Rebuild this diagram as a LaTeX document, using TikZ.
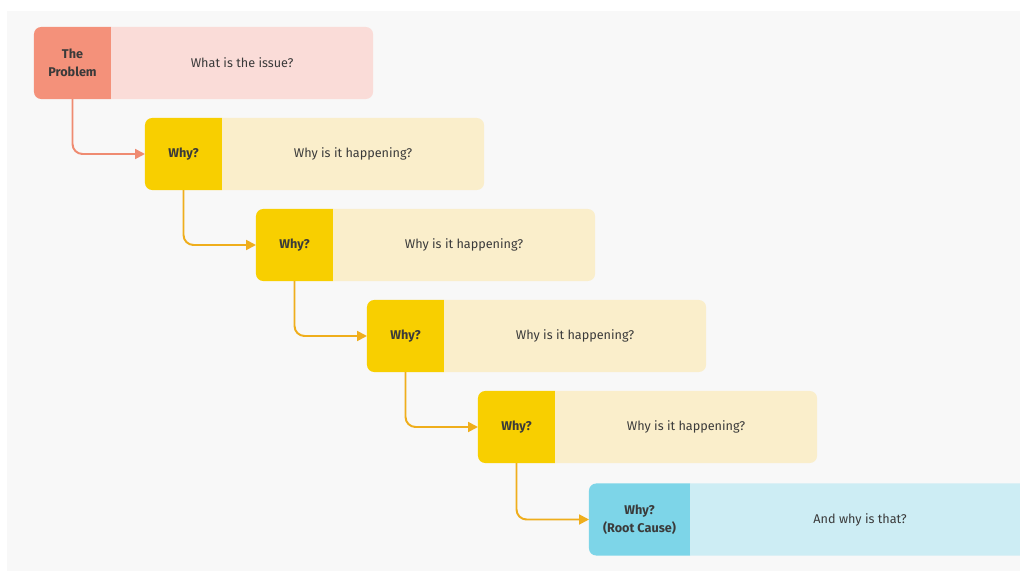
\documentclass[tikz,border=0pt]{standalone}
\usepackage{fontspec}
\setmainfont{Fira Sans}
\usetikzlibrary{positioning,arrows.meta,backgrounds}

\definecolor{probdark}{HTML}{F4917A}
\definecolor{problight}{HTML}{FADCD8}
\definecolor{whydark}{HTML}{F8CF00}
\definecolor{whylight}{HTML}{FAEECB}
\definecolor{rootdark}{HTML}{7DD5E8}
\definecolor{rootlight}{HTML}{CDEDF4}
\definecolor{probline}{HTML}{EF8B71}
\definecolor{whyline}{HTML}{EFAE1C}
\definecolor{ink}{HTML}{3A3A3A}
\definecolor{paper}{HTML}{F8F8F8}

\tikzset{
  lbl/.style={minimum width=1.925cm, minimum height=1.8cm, inner sep=0pt, outer sep=0pt,
    align=center, text=ink, font=\fontsize{9}{12.5}\selectfont\bfseries},
  txt/.style={minimum width=6.55cm, minimum height=1.8cm, inner sep=0pt, outer sep=0pt,
    text=ink, font=\fontsize{9}{12.5}\selectfont},
  link/.style={line width=1.4pt, rounded corners=0.25cm, -{Triangle[length=7pt,width=7pt]}},
}

\begin{document}
\begin{tikzpicture}[x=0.025cm, y=-0.025cm]
\useasboundingbox (0,0) rectangle (1020,571);
\clip (0,0) rectangle (1020,571);

% the problem
\node[lbl] (prob) at (72.5,63) {The\\Problem};
\node[txt, right=0pt of prob] (issue) {What is the issue?};

% the whys
\node[lbl] (why1) at (183.5,154) {Why?};
\node[txt, right=0pt of why1] (txt1) {Why is it happening?};
\node[lbl] (why2) at (294.5,245) {Why?};
\node[txt, right=0pt of why2] (txt2) {Why is it happening?};
\node[lbl] (why3) at (405.5,336) {Why?};
\node[txt, right=0pt of why3] (txt3) {Why is it happening?};
\node[lbl] (why4) at (516.5,427) {Why?};
\node[txt, right=0pt of why4] (txt4) {Why is it happening?};

% root cause
\node[lbl, minimum width=2.525cm] (root) at (639.5,519.5) {Why?\\(Root Cause)};
\node[txt, minimum width=8.5cm, right=0pt of root] (rtxt) {And why is that?};

\begin{scope}[on background layer]
\fill[paper] (7,11) rectangle (1020,571);
\fill[probdark] (prob.north east) [rounded corners=0.18cm] -- (prob.north west) -- (prob.south west) [sharp corners] -- (prob.south east) -- cycle;
\fill[problight] (issue.north west) [rounded corners=0.18cm] -- (issue.north east) -- (issue.south east) [sharp corners] -- (issue.south west) -- cycle;
\fill[whydark] (why1.north east) [rounded corners=0.18cm] -- (why1.north west) -- (why1.south west) [sharp corners] -- (why1.south east) -- cycle;
\fill[whylight] (txt1.north west) [rounded corners=0.18cm] -- (txt1.north east) -- (txt1.south east) [sharp corners] -- (txt1.south west) -- cycle;
\fill[whydark] (why2.north east) [rounded corners=0.18cm] -- (why2.north west) -- (why2.south west) [sharp corners] -- (why2.south east) -- cycle;
\fill[whylight] (txt2.north west) [rounded corners=0.18cm] -- (txt2.north east) -- (txt2.south east) [sharp corners] -- (txt2.south west) -- cycle;
\fill[whydark] (why3.north east) [rounded corners=0.18cm] -- (why3.north west) -- (why3.south west) [sharp corners] -- (why3.south east) -- cycle;
\fill[whylight] (txt3.north west) [rounded corners=0.18cm] -- (txt3.north east) -- (txt3.south east) [sharp corners] -- (txt3.south west) -- cycle;
\fill[whydark] (why4.north east) [rounded corners=0.18cm] -- (why4.north west) -- (why4.south west) [sharp corners] -- (why4.south east) -- cycle;
\fill[whylight] (txt4.north west) [rounded corners=0.18cm] -- (txt4.north east) -- (txt4.south east) [sharp corners] -- (txt4.south west) -- cycle;
\fill[rootdark] (root.north east) [rounded corners=0.18cm] -- (root.north west) -- (root.south west) [sharp corners] -- (root.south east) -- cycle;
\fill[rootlight] (rtxt.north west) [rounded corners=0.18cm] -- (rtxt.north east) -- (rtxt.south east) [sharp corners] -- (rtxt.south west) -- cycle;
\end{scope}

% links
\draw[link, probline] (prob.south) |- (why1.west);
\draw[link, whyline] (why1.south) |- (why2.west);
\draw[link, whyline] (why2.south) |- (why3.west);
\draw[link, whyline] (why3.south) |- (why4.west);
\draw[link, whyline] (why4.south) |- (root.west);

\end{tikzpicture}
\end{document}
